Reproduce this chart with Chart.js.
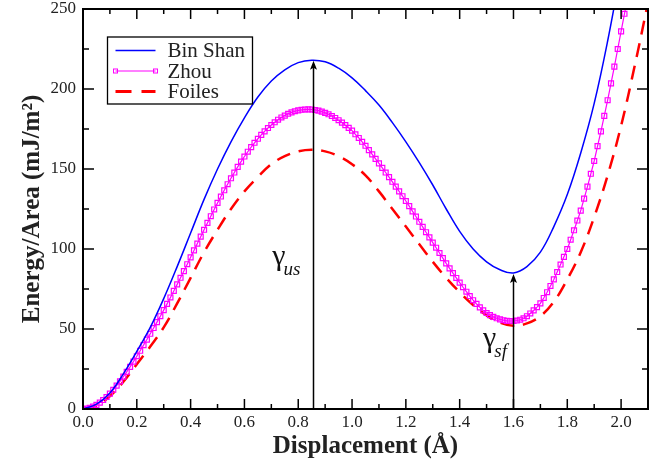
<!DOCTYPE html>
<html>
<head>
<meta charset="utf-8">
<script src="https://cdn.jsdelivr.net/npm/chart.js@4.4.0/dist/chart.umd.min.js"></script>
<style>
  html, body { margin: 0; padding: 0; background: #fff; }
</style>
</head>
<body>
<canvas id="gsf" width="664" height="464"></canvas>
<script>
// Displacement grid (Angstrom) for Bin Shan and Foiles
var displacement = [0,0.05,0.1,0.15,0.2,0.25,0.3,0.35,0.4,0.45,0.5,0.55,0.6,0.65,0.7,0.75,0.8,0.85,0.9,0.95,
  1.0,1.05,1.1,1.15,1.2,1.25,1.3,1.35,1.4,1.45,1.5,1.55,1.6,1.65,1.7,1.75,1.8,1.85,1.9,1.95,2.0,2.05,2.1];

// Energy per area (mJ/m^2)
var binShan = [0,3,10,22,36,51,69,89,110,131,150,167,182,195,205,212,216.5,218,217,213,
  207,199,190,179,167,154,140,125,111,100,92,87,85,89,98,114,134,160,191,230,275];
var foiles = [0,2,8,17,28,39,51,66,82,98,112,125,136,145,153,158,161,162,161,158,
  153,146,136,125,114,103,92,82,73,65,58.5,54,52,53.5,58,67,81,98,120,146,177,214,254];

// Zhou curve is sampled finer (one marker per point)
var zhouDisplacement = [
  0,0.0125,0.025,0.0375,0.05,0.0625,0.075,0.0875,
  0.1,0.1125,0.125,0.1375,0.15,0.1625,0.175,0.1875,
  0.2,0.2125,0.225,0.2375,0.25,0.2625,0.275,0.2875,
  0.3,0.3125,0.325,0.3375,0.35,0.3625,0.375,0.3875,
  0.4,0.4125,0.425,0.4375,0.45,0.4625,0.475,0.4875,
  0.5,0.5125,0.525,0.5375,0.55,0.5625,0.575,0.5875,
  0.6,0.6125,0.625,0.6375,0.65,0.6625,0.675,0.6875,
  0.7,0.7125,0.725,0.7375,0.75,0.7625,0.775,0.7875,
  0.8,0.8125,0.825,0.8375,0.85,0.8625,0.875,0.8875,
  0.9,0.9125,0.925,0.9375,0.95,0.9625,0.975,0.9875,
  1.0,1.0125,1.025,1.0375,1.05,1.0625,1.075,1.0875,
  1.1,1.1125,1.125,1.1375,1.15,1.1625,1.175,1.1875,
  1.2,1.2125,1.225,1.2375,1.25,1.2625,1.275,1.2875,
  1.3,1.3125,1.325,1.3375,1.35,1.3625,1.375,1.3875,
  1.4,1.4125,1.425,1.4375,1.45,1.4625,1.475,1.4875,
  1.5,1.5125,1.525,1.5375,1.55,1.5625,1.575,1.5875,
  1.6,1.6125,1.625,1.6375,1.65,1.6625,1.675,1.6875,
  1.7,1.7125,1.725,1.7375,1.75,1.7625,1.775,1.7875,
  1.8,1.8125,1.825,1.8375,1.85,1.8625,1.875,1.8875,
  1.9,1.9125,1.925,1.9375,1.95,1.9625,1.975,1.9875,
  2.0,2.0125,2.025];
var zhou = [
  0,0.2,0.7,1.5,2.6,4.0,5.6,7.5,
  9.6,12.0,14.6,17.3,20.2,23.2,26.3,29.6,
  33.0,36.4,39.9,43.4,47.0,50.6,54.3,58.0,
  61.8,65.7,69.7,73.8,77.9,82.0,86.2,90.5,
  94.8,99.1,103.4,107.7,112.0,116.3,120.5,124.7,
  128.8,132.8,136.7,140.5,144.2,147.8,151.3,154.6,
  157.8,160.8,163.7,166.4,168.9,171.3,173.5,175.6,
  177.5,179.2,180.8,182.2,183.4,184.5,185.4,186.1,
  186.6,187.0,187.2,187.3,187.2,186.9,186.5,185.9,
  185.1,184.2,183.1,181.9,180.5,179.0,177.4,175.7,
  174.0,171.7,169.4,167.0,164.5,161.8,159.1,156.3,
  153.5,150.7,147.8,144.9,142.0,139.0,136.0,133.0,
  130.0,126.8,123.5,120.3,117.0,113.8,110.5,107.3,
  104.0,100.8,97.5,94.3,91.0,87.9,84.9,81.9,
  79.0,76.1,73.3,70.6,68.0,65.7,63.5,61.6,
  60.0,58.7,57.6,56.7,56.0,55.5,55.1,55.0,
  55.0,55.3,55.8,56.7,58.0,59.7,61.6,63.7,
  66.0,69.4,73.0,76.9,81.0,85.6,90.3,95.1,
  100.0,105.8,111.7,117.8,124.0,131.5,139.0,147.0,
  155.0,164.3,173.5,183.2,193.0,203.5,214.0,225.0,
  236.0,247.0,258.0];

// Arrows: unstable (us) and stable (sf) stacking fault energies
var arrowX = [0.855, 1.597];
var arrowTop = [217.6, 84.4];
var arrowNames = ["us", "sf"];

function pairs(xs, ys) {
  return ys.map(function (v, i) { return {x: xs[i], y: v}; });
}

var serif = "'Liberation Serif', 'Times New Roman', serif";
var textColor = "#222";

var datasets = [
  {
    label: "Bin Shan",
    data: pairs(displacement, binShan),
    borderColor: "#0000ff",
    borderWidth: 1.5,
    pointRadius: 0,
    tension: 0.4,
    clip: 0
  },
  {
    label: "Zhou",
    data: pairs(zhouDisplacement, zhou),
    borderColor: "#ff00ff",
    borderWidth: 1.2,
    pointStyle: "rect",
    pointRadius: 3.5,
    pointBorderWidth: 1.2,
    pointBorderColor: "#ff00ff",
    pointBackgroundColor: "rgba(255,255,255,0)",
    tension: 0,
    clip: 0
  },
  {
    label: "Foiles",
    data: pairs(displacement, foiles),
    borderColor: "#ff0000",
    borderWidth: 2.5,
    borderDash: [14, 9],
    pointRadius: 0,
    tension: 0.4,
    clip: 0
  }
];

function line(ctx, x1, y1, x2, y2) {
  ctx.beginPath(); ctx.moveTo(x1, y1); ctx.lineTo(x2, y2); ctx.stroke();
}

// Frame with inward ticks, arrows, gamma labels and the boxed legend
var decorations = {
  id: "decorations",
  afterDatasetsDraw: function (chart) {
    var ctx = chart.ctx, a = chart.chartArea;
    var xs = chart.scales.x, ys = chart.scales.y;
    ctx.save();

    // arrows
    ctx.strokeStyle = "#000";
    ctx.fillStyle = "#000";
    ctx.lineWidth = 1.5;
    for (var i = 0; i < arrowX.length; i++) {
      var px = Math.round(xs.getPixelForValue(arrowX[i])) + 0.5;
      var top = ys.getPixelForValue(arrowTop[i]);
      line(ctx, px, a.bottom, px, top + 5);
      ctx.beginPath();
      ctx.moveTo(px, top);
      ctx.lineTo(px - 3.5, top + 9);
      ctx.lineTo(px, top + 7);
      ctx.lineTo(px + 3.5, top + 9);
      ctx.closePath();
      ctx.fill();
    }

    // gamma labels, placed left of each arrow
    var labelX = [0.703, 1.487];
    var labelY = [90, 39];
    ctx.fillStyle = "#111";
    ctx.textBaseline = "alphabetic";
    ctx.textAlign = "left";
    for (var j = 0; j < labelX.length; j++) {
      var lx = xs.getPixelForValue(labelX[j]);
      var ly = ys.getPixelForValue(labelY[j]);
      ctx.font = "30px " + serif;
      ctx.fillText("\u03b3", lx, ly);
      var gw = ctx.measureText("\u03b3").width;
      ctx.font = "italic 19px " + serif;
      ctx.fillText(arrowNames[j], lx + gw - 2, ly + 10);
    }

    // inward ticks on all four sides
    ctx.strokeStyle = "#000";
    ctx.lineWidth = 1.5;
    xs.ticks.forEach(function (t) {
      var p = xs.getPixelForValue(t.value);
      var major = Math.round(t.value * 10) % 2 === 0;
      var len = major ? 10 : 5;
      line(ctx, p, a.bottom, p, a.bottom - len);
      line(ctx, p, a.top, p, a.top + len);
    });
    ys.ticks.forEach(function (t) {
      var p = ys.getPixelForValue(t.value);
      var major = Math.round(t.value) % 50 === 0;
      var len = major ? 11 : 6;
      line(ctx, a.left, p, a.left + len, p);
      line(ctx, a.right, p, a.right - len, p);
    });
    ctx.lineWidth = 2;
    ctx.strokeRect(a.left, a.top, a.right - a.left, a.bottom - a.top);

    // legend box
    var bx = a.left + 24.5, by = a.top + 28, bw = 145, bh = 67;
    ctx.fillStyle = "#fff";
    ctx.fillRect(bx, by, bw, bh);
    ctx.lineWidth = 1.3;
    ctx.strokeStyle = "#000";
    ctx.strokeRect(bx, by, bw, bh);
    chart.data.datasets.forEach(function (ds, k) {
      var cy = by + 13.5 + k * 20.5;
      var x1 = bx + 8, x2 = bx + 48;
      ctx.save();
      ctx.strokeStyle = ds.borderColor;
      ctx.lineWidth = ds.label === "Foiles" ? 3 : ds.borderWidth;
      ctx.setLineDash(ds.borderDash ? [16, 10] : []);
      line(ctx, x1, cy, x2, cy);
      ctx.restore();
      if (ds.pointStyle === "rect") {
        ctx.strokeStyle = ds.pointBorderColor;
        ctx.lineWidth = 1;
        ctx.strokeRect(x1 - 2, cy - 2, 4, 4);
        ctx.strokeRect(x2 - 2, cy - 2, 4, 4);
      }
      ctx.fillStyle = textColor;
      ctx.font = "21px " + serif;
      ctx.textBaseline = "middle";
      ctx.textAlign = "left";
      ctx.fillText(ds.label, bx + 60, cy + 1);
    });
    ctx.restore();
  }
};

var chart = new Chart(document.getElementById("gsf"), {
  type: "line",
  data: { datasets: datasets },
  options: {
    responsive: false,
    animation: false,
    layout: { padding: { top: 0, right: 16, left: 0, bottom: 0 } },
    plugins: { legend: { display: false }, tooltip: { enabled: false } },
    scales: {
      x: {
        type: "linear",
        min: 0,
        max: 2.1,
        grid: { display: false, drawTicks: false },
        border: { display: false },
        ticks: {
          stepSize: 0.1,
          autoSkip: false,
          maxRotation: 0,
          padding: 3,
          color: textColor,
          font: { family: serif, size: 17 },
          callback: function (v) {
            return Math.round(v * 10) % 2 === 0 ? v.toFixed(1) : "";
          }
        },
        title: {
          display: true,
          text: "Displacement (\u00c5)",
          color: textColor,
          font: { family: serif, size: 25, weight: "bold" },
          padding: { top: 0, bottom: 2 }
        },
        afterFit: function (s) { s.height = 55; }
      },
      y: {
        min: 0,
        max: 250,
        grid: { display: false, drawTicks: false },
        border: { display: false },
        ticks: {
          stepSize: 25,
          padding: 7,
          color: textColor,
          font: { family: serif, size: 17 },
          callback: function (v) {
            return v % 50 === 0 ? String(v) : "";
          }
        },
        title: {
          display: true,
          text: "Energy/Area (mJ/m\u00b2)",
          color: textColor,
          font: { family: serif, size: 25, weight: "bold" },
          padding: { top: 18, bottom: 0 }
        },
        afterFit: function (s) {
          s.width = 83;
          s.paddingTop = 9;
          s.paddingBottom = 0;
        }
      }
    }
  },
  plugins: [decorations]
});
</script>
</body>
</html>
